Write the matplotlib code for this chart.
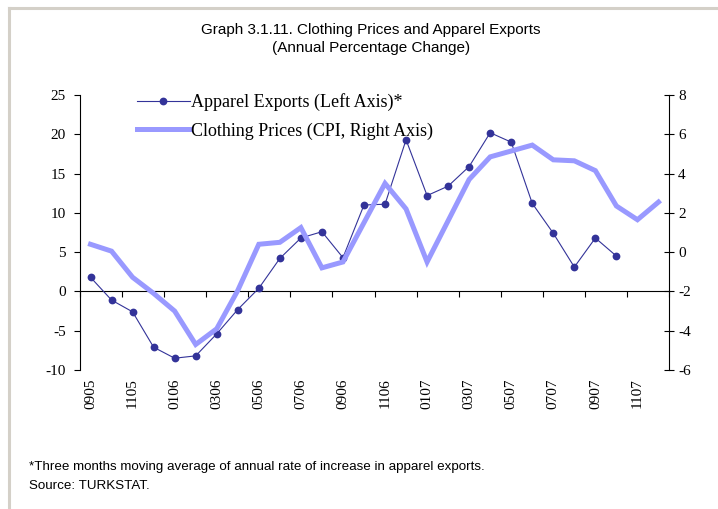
import matplotlib
matplotlib.use("Agg")
import matplotlib.pyplot as plt
import numpy as np
from matplotlib.lines import Line2D

months = ["0905", "1005", "1105", "1205", "0106", "0206", "0306", "0406", "0506", "0606",
          "0706", "0806", "0906", "1006", "1106", "1206", "0107", "0207", "0307", "0407",
          "0507", "0607", "0707", "0807", "0907", "1007", "1107", "1207"]
apparel_exports = [1.8, -1.1, -2.6, -7.1, -8.5, -8.2, -5.4, -2.3, 0.4, 4.2,
                   6.8, 7.6, 4.3, 11.0, 11.1, 19.3, 12.2, 13.4, 15.9, 20.2,
                   19.0, 11.2, 7.4, 3.1, 6.8, 4.5, np.nan, np.nan]
clothing_prices = [0.4, 0.05, -1.28, -2.1, -3.0, -4.7, -3.9, -1.95, 0.4, 0.5,
                   1.25, -0.8, -0.5, 1.5, 3.5, 2.2, -0.5, 1.6, 3.7, 4.85,
                   5.15, 5.45, 4.7, 4.65, 4.15, 2.35, 1.65, 2.55]
shown_labels = months[::2]

serif = ["Liberation Serif", "DejaVu Serif"]
narrow = ["Liberation Sans", "DejaVu Sans"]

W, H = 718, 509
fig = plt.figure(figsize=(W / 100, H / 100), dpi=100)
fig.patch.set_facecolor("white")

# light frame lines (top & left)
fig.add_artist(Line2D([9 / W, 1.0], [1 - 8 / H, 1 - 8 / H], color="#D4D0C8", lw=2.2,
                      transform=fig.transFigure))
fig.add_artist(Line2D([9 / W, 9 / W], [1 - 8 / H, 0.0], color="#D4D0C8", lw=2.2,
                      transform=fig.transFigure))

left, right, top, bottom = 80 / W, 669 / W, 95 / H, 370 / H
ax = fig.add_axes([left, 1 - bottom, right - left, bottom - top])
x = np.arange(len(months))

ax.plot(x, apparel_exports, color="#333399", lw=0.8, marker="o", markersize=5.6,
        markeredgewidth=0, zorder=3)
ax.set_xlim(-0.5, len(months) - 0.5)
ax.set_ylim(-10, 25)
ax.set_yticks(np.arange(-10, 26, 5))
ax.set_yticklabels([f"{v}" for v in range(-10, 26, 5)], family=serif, fontsize=11)
ax.tick_params(axis="y", direction="out", length=4, width=0.8, pad=6)

for s in ["top", "right"]:
    ax.spines[s].set_visible(False)
ax.spines["left"].set_linewidth(0.8)
ax.spines["bottom"].set_position(("data", 0))
ax.spines["bottom"].set_linewidth(0.8)
ax.set_xticks(np.arange(-0.5, len(months), 2))
ax.set_xticklabels([])
ax.tick_params(axis="x", direction="out", length=4, width=0.8)

sec = ax.secondary_xaxis("bottom")
sec.set_xticks(x[::2])
sec.set_xticklabels(shown_labels, rotation=90, family=serif, fontsize=11)
sec.tick_params(axis="x", length=0, pad=6)
sec.spines["bottom"].set_visible(False)

ax2 = ax.twinx()
ax2.plot(x, clothing_prices, color="#9999FF", lw=3.6, solid_joinstyle="miter", zorder=2)
ax2.set_ylim(-6, 8)
ax2.set_yticks(np.arange(-6, 9, 2))
ax2.set_yticklabels([f"{v}" for v in range(-6, 9, 2)], family=serif, fontsize=11)
ax2.tick_params(axis="y", direction="inout", length=7, width=0.8, pad=3)
for s in ["top", "left", "bottom"]:
    ax2.spines[s].set_visible(False)
ax2.spines["right"].set_linewidth(0.8)

h1 = Line2D([], [], color="#333399", lw=0.8, marker="o", markersize=5.6, markeredgewidth=0)
h2 = Line2D([], [], color="#9999FF", lw=3.6)
leg = ax2.legend([h1, h2], ["Apparel Exports (Left Axis)*", "Clothing Prices (CPI, Right Axis)"],
                 loc="upper left", bbox_to_anchor=(0.085, 1.032), frameon=False,
                 prop={"family": serif, "size": 13}, handlelength=2.9, handletextpad=0.08,
                 labelspacing=0.62, borderaxespad=0)

fig.text(371 / W, 1 - 30 / H, "Graph 3.1.11. Clothing Prices and Apparel Exports",
         ha="center", va="center", family=narrow, fontsize=11)
fig.text(371 / W, 1 - 48 / H, "(Annual Percentage Change)",
         ha="center", va="center", family=narrow, fontsize=11)
fig.text(29 / W, 1 - 467 / H, "*Three months moving average of annual rate of increase in apparel exports.",
         ha="left", va="center", family=narrow, fontsize=9.6)
fig.text(29 / W, 1 - 486 / H, "Source: TURKSTAT.",
         ha="left", va="center", family=narrow, fontsize=9.6)

fig.savefig("out.png", dpi=100)
